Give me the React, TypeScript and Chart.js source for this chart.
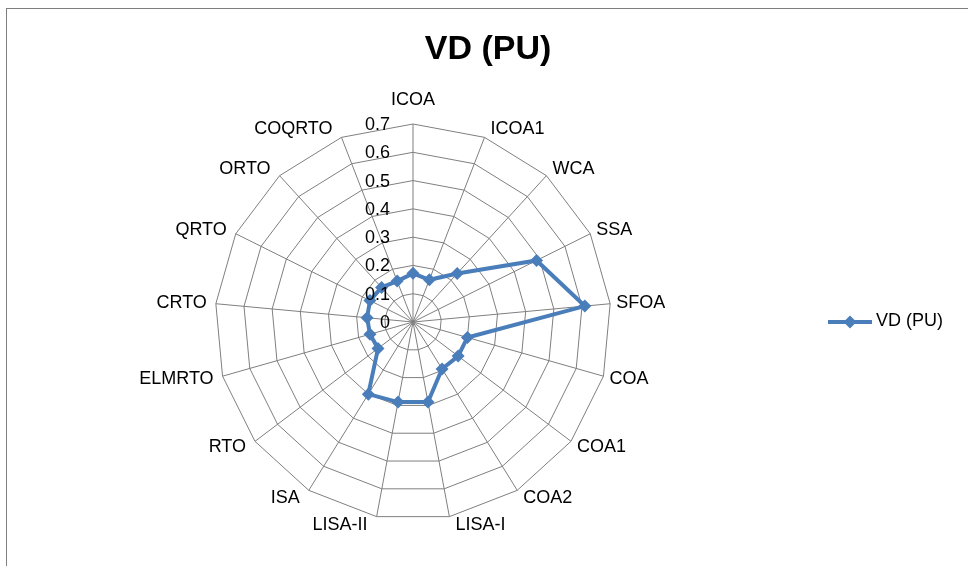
import React, { useEffect, useRef } from "react";
import { Chart, registerables } from "chart.js";

Chart.register(...registerables);

const categories = [
  "ICOA", "ICOA1", "WCA", "SSA", "SFOA", "COA", "COA1", "COA2", "LISA-I",
  "LISA-II", "ISA", "RTO", "ELMRTO", "CRTO", "QRTO", "ORTO", "COQRTO",
];
const seriesName = "VD (PU)";
const vdValues = [
  0.172, 0.16, 0.232, 0.488, 0.61, 0.2, 0.2, 0.195, 0.288,
  0.288, 0.3, 0.155, 0.158, 0.163, 0.17, 0.165, 0.155,
];
const tickLabels = ["0", "0.1", "0.2", "0.3", "0.4", "0.5", "0.6", "0.7"];

const FONT = "'Liberation Sans', Arial, sans-serif";
const LINE_COLOR = "#4A7EBB";
const GRID_COLOR = "#7F7F7F";

const customPlugin = {
  id: "customDraw",
  beforeDraw(chart: any) {
    const ctx = chart.ctx;
    ctx.save();
    ctx.strokeStyle = GRID_COLOR;
    ctx.lineWidth = 1;
    ctx.strokeRect(6.5, 8.5, 1200, 1200);
    ctx.restore();
  },
  afterDraw(chart: any) {
    const ctx = chart.ctx;
    const scale = chart.scales.r;
    ctx.save();
    ctx.fillStyle = "#000";
    ctx.font = `18px ${FONT}`;
    ctx.textBaseline = "middle";
    // tick labels
    ctx.textAlign = "right";
    tickLabels.forEach((t) => {
      const d = scale.getDistanceFromCenterForValue(parseFloat(t));
      ctx.fillText(t, scale.xCenter - 23, scale.yCenter - d + 1);
    });
    // point labels
    const labels = chart.data.labels as string[];
    labels.forEach((lab, i) => {
      const th = scale.getIndexAngle(i);
      const s = Math.sin(th);
      const c = Math.cos(th);
      const p = scale.getPointPosition(i, scale.drawingArea);
      if (Math.abs(s) < 0.05) {
        ctx.textAlign = "center";
        ctx.fillText(lab, p.x, c > 0 ? p.y - 23.5 : p.y + 23.5);
      } else if (s > 0) {
        ctx.textAlign = "left";
        ctx.fillText(lab, p.x + 6, p.y - 9 * c);
      } else {
        ctx.textAlign = "right";
        ctx.fillText(lab, p.x - 9, p.y - 9 * c);
      }
    });
    // legend
    const ds = chart.data.datasets[0];
    const ly = 322;
    ctx.strokeStyle = LINE_COLOR;
    ctx.lineWidth = 4;
    ctx.beginPath();
    ctx.moveTo(828, ly);
    ctx.lineTo(872, ly);
    ctx.stroke();
    ctx.fillStyle = LINE_COLOR;
    ctx.beginPath();
    ctx.moveTo(850, ly - 6.5);
    ctx.lineTo(856.5, ly);
    ctx.lineTo(850, ly + 6.5);
    ctx.lineTo(843.5, ly);
    ctx.closePath();
    ctx.fill();
    ctx.fillStyle = "#000";
    ctx.textAlign = "left";
    ctx.fillText(ds.label, 876, ly - 1);
    ctx.restore();
  },
};

export default function App() {
  const ref = useRef<HTMLCanvasElement | null>(null);
  useEffect(() => {
    if (!ref.current) return;
    const chart = new Chart(ref.current, {
      type: "radar",
      data: {
        labels: categories,
        datasets: [
          {
            label: seriesName,
            data: vdValues,
            borderColor: LINE_COLOR,
            backgroundColor: LINE_COLOR,
            borderWidth: 4,
            fill: false,
            tension: 0,
            pointStyle: "rectRot",
            pointRadius: 6.5,
            pointBackgroundColor: LINE_COLOR,
            pointBorderColor: LINE_COLOR,
            pointBorderWidth: 0,
          },
        ],
      },
      options: {
        animation: false,
        responsive: false,
        maintainAspectRatio: false,
        layout: { padding: { left: 8 } },
        plugins: {
          legend: { display: false },
          tooltip: { enabled: false },
          title: {
            display: true,
            text: seriesName,
            color: "#000",
            font: { family: FONT, size: 34, weight: "bold" },
            padding: { top: 29, bottom: 10 },
          },
        },
        scales: {
          r: {
            min: 0,
            max: 0.7,
            ticks: { display: false, stepSize: 0.1 },
            pointLabels: { display: false },
            grid: { color: GRID_COLOR, lineWidth: 1, circular: false },
            angleLines: { color: GRID_COLOR, lineWidth: 1 },
            afterFit(scale: any) {
              scale.xCenter = 413;
              scale.yCenter = 322;
              scale.drawingArea = 198;
            },
          } as any,
        },
      },
      plugins: [customPlugin],
    });
    return () => chart.destroy();
  }, []);
  return (
    <div style={{ position: "fixed", left: 0, top: 0, width: 968, height: 566, background: "#fff" }}>
      <canvas ref={ref} width={968} height={566} style={{ width: 968, height: 566, display: "block" }} />
    </div>
  );
}
